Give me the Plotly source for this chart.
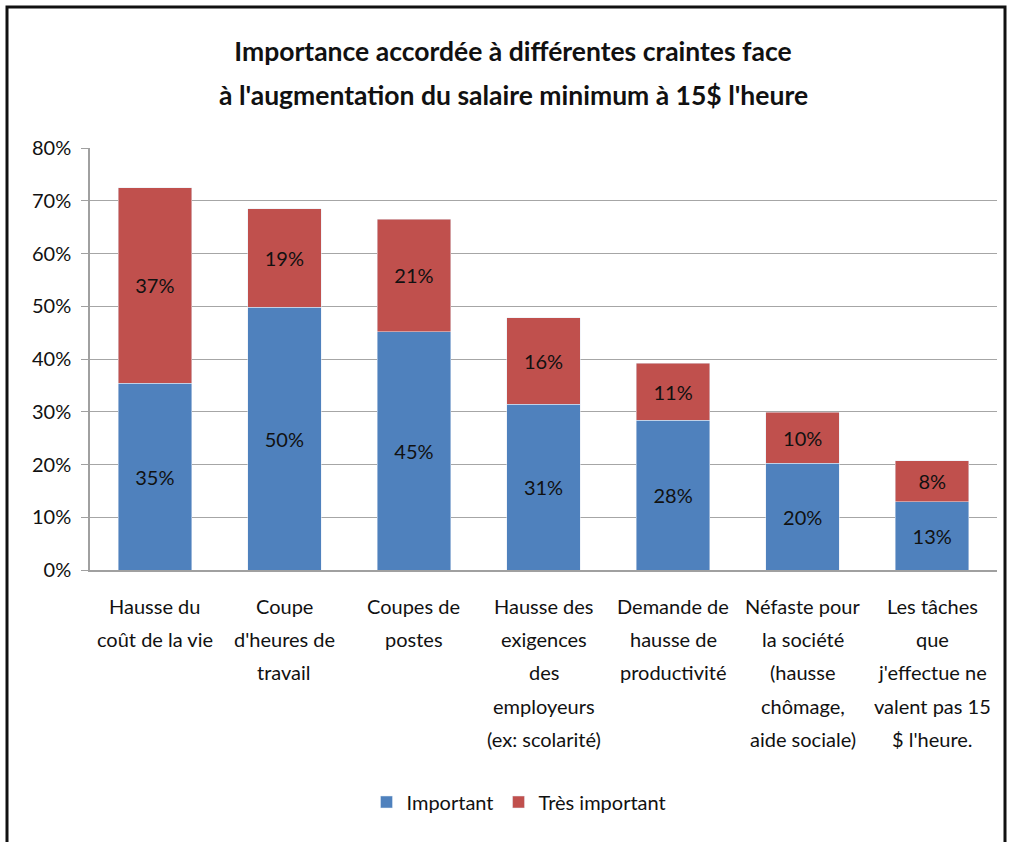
import plotly.graph_objects as go

title_lines = [
    "Importance accordée à différentes craintes face",
    "à l'augmentation du salaire minimum à 15$ l'heure",
]
categories = [
    "Hausse du<br>coût de la vie",
    "Coupe<br>d'heures de<br>travail",
    "Coupes de<br>postes",
    "Hausse des<br>exigences<br>des<br>employeurs<br>(ex: scolarité)",
    "Demande de<br>hausse de<br>productivité",
    "Néfaste pour<br>la société<br>(hausse<br>chômage,<br>aide sociale)",
    "Les tâches<br>que<br>j'effectue ne<br>valent pas 15<br>$ l'heure.",
]
important = [35.4, 49.8, 45.2, 31.4, 28.4, 20.2, 12.9]
tres_important = [37.1, 18.7, 21.3, 16.4, 10.8, 9.7, 7.8]
y_ticks = [0, 10, 20, 30, 40, 50, 60, 70, 80]

FONT = "Lato, 'Open Sans', sans-serif"
BLUE = "#4F81BD"
RED = "#C0504D"
TXT = "#111111"

x_idx = list(range(len(categories)))

fig = go.Figure()
fig.add_trace(go.Bar(
    name="Important", x=x_idx, y=important, marker_color=BLUE,
    texttemplate="%{y:.0f}%", textposition="inside", insidetextanchor="middle",
    textfont=dict(family=FONT, size=20, color=TXT), constraintext="none",
    hoverinfo="skip",
))
fig.add_trace(go.Bar(
    name="Très important", x=x_idx, y=tres_important, marker_color=RED,
    texttemplate="%{y:.0f}%", textposition="inside", insidetextanchor="middle",
    textfont=dict(family=FONT, size=20, color=TXT), constraintext="none",
    hoverinfo="skip",
))

# category labels as multi-line annotations (Excel-like line spacing)
annotations = []
for i, cat in enumerate(categories):
    for j, line in enumerate(cat.split("<br>")):
        annotations.append(dict(
            x=i, xref="x", y=0, yref="paper", yanchor="middle",
            yshift=-36 - j * 33.2, text=line, showarrow=False,
            font=dict(family=FONT, size=20, color=TXT),
        ))

# second title line (title line spacing wider than plotly's default)
annotations.append(dict(
    x=(513 - 90) / 907, xref="paper", y=(570 - 95) / 422, yref="paper",
    xanchor="center", yanchor="middle",
    text="<b>" + title_lines[1] + "</b>", showarrow=False,
    font=dict(family=FONT, size=26.5, color=TXT),
))

fig.update_layout(
    width=1011, height=842,
    margin=dict(l=90, r=14, t=148, b=272),
    paper_bgcolor="white", plot_bgcolor="white",
    barmode="stack", bargap=0.433,
    title=dict(
        text="<b>" + title_lines[0] + "</b>",
        x=513 / 1011, xanchor="center", xref="container",
        y=1 - 52 / 842, yanchor="middle", yref="container",
        font=dict(family=FONT, size=26.5, color=TXT),
    ),
    xaxis=dict(
        range=[-0.5, len(categories) - 0.5], showticklabels=False,
        showline=True, linecolor="#A0A0A0", linewidth=1.5,
        showgrid=False, zeroline=False, fixedrange=True,
    ),
    yaxis=dict(
        range=[0, 80], tickvals=y_ticks, ticktext=[f"{v}%" for v in y_ticks],
        showgrid=True, gridcolor="#A6A6A6", gridwidth=1.3,
        showline=True, linecolor="#A0A0A0", linewidth=1.5,
        ticks="outside", ticklen=7, tickcolor="#A0A0A0", tickwidth=1.3,
        ticklabelstandoff=6,
        tickfont=dict(family=FONT, size=20, color=TXT),
        zeroline=False, fixedrange=True,
    ),
    showlegend=True,
    legend=dict(
        orientation="h", x=(519 - 90) / 907, xanchor="center",
        y=(570 - 802) / 422, yanchor="middle",
        font=dict(family=FONT, size=20, color=TXT),
        itemwidth=30, traceorder="normal", bgcolor="rgba(0,0,0,0)",
    ),
    annotations=annotations,
    shapes=[
        dict(type="rect", xref="paper", yref="paper",
             x0=(7 - 90) / 907, x1=(1005 - 90) / 907,
             y0=(570 - 850) / 422, y1=(570 - 7) / 422,
             line=dict(color="#111111", width=3), fillcolor="rgba(0,0,0,0)",
             layer="below"),
    ],
)

fig.write_html("out.html")
